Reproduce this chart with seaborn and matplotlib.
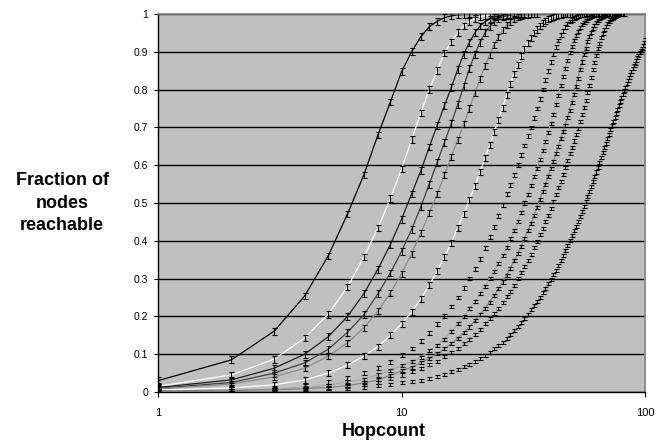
import pandas as pd
import matplotlib
matplotlib.use("Agg")
import matplotlib.pyplot as plt
import seaborn as sns

# ---------- Data: fraction of nodes reachable within h hops (h = 1, 2, 3, ...) ----------
c1 = [0.030, 0.085, 0.161, 0.254, 0.360, 0.471, 0.574, 0.680, 0.767, 0.847,
      0.900, 0.940, 0.966, 0.981, 0.990, 0.995, 0.998, 0.999, 1.0, 1.0]
c2 = [0.015, 0.045, 0.087, 0.143, 0.206, 0.278, 0.357, 0.434, 0.512, 0.590,
      0.667, 0.738, 0.800, 0.850, 0.897, 0.926, 0.950, 0.968, 0.980, 0.988,
      0.993, 0.996, 0.998, 0.999, 1.0]
c3 = [0.012, 0.032, 0.063, 0.100, 0.146, 0.200, 0.260, 0.325, 0.390, 0.457,
      0.524, 0.585, 0.648, 0.705, 0.757, 0.805, 0.853, 0.893, 0.925, 0.950,
      0.968, 0.979, 0.987, 0.992, 0.995, 0.997, 0.998, 0.999, 1.0, 1.0]
c4 = [0.010, 0.025, 0.050, 0.077, 0.113, 0.158, 0.204, 0.260, 0.315, 0.372,
      0.430, 0.490, 0.550, 0.607, 0.660, 0.710, 0.760, 0.808, 0.855, 0.893,
      0.925, 0.950, 0.967, 0.979, 0.987, 0.992, 0.995, 0.997, 0.998, 0.999,
      1.0, 1.0]
c5 = [0.008, 0.021, 0.040, 0.063, 0.095, 0.130, 0.170, 0.214, 0.262, 0.313,
      0.366, 0.420, 0.473, 0.524, 0.574, 0.622, 0.666, 0.708, 0.750, 0.790,
      0.828, 0.862, 0.892, 0.918, 0.940, 0.957, 0.970, 0.980, 0.987, 0.992,
      0.995, 0.997, 0.998, 0.999, 1.0, 1.0]
c6 = [0.005, 0.011, 0.019, 0.032, 0.050, 0.071, 0.095, 0.120, 0.150, 0.180,
      0.212, 0.246, 0.283, 0.320, 0.357, 0.394, 0.434, 0.471, 0.508, 0.545,
      0.582, 0.618, 0.653, 0.687, 0.720, 0.752, 0.785, 0.815, 0.842, 0.866,
      0.888, 0.907, 0.923, 0.937, 0.949, 0.959, 0.968, 0.975, 0.981, 0.986,
      0.990, 0.993, 0.995, 0.997, 0.998, 0.999, 1.0, 1.0, 1.0, 1.0]
c7 = [0.004, 0.007, 0.010, 0.016, 0.027, 0.038, 0.051, 0.064, 0.080, 0.098,
      0.115, 0.135, 0.157, 0.180, 0.202, 0.226, 0.250, 0.275, 0.300, 0.325,
      0.352, 0.380, 0.410, 0.437, 0.466, 0.495, 0.524, 0.548, 0.574, 0.600,
      0.627, 0.652, 0.677, 0.700, 0.725, 0.750, 0.775, 0.800, 0.825, 0.850,
      0.873, 0.895, 0.913, 0.930, 0.944, 0.956, 0.966, 0.974, 0.980, 0.985,
      0.989, 0.992, 0.994, 0.996, 0.997, 0.998, 0.999, 1.0, 1.0, 1.0]
c8 = [0.003, 0.005, 0.008, 0.012, 0.018, 0.027, 0.034, 0.045, 0.058, 0.069,
      0.080, 0.092, 0.109, 0.124, 0.140, 0.160, 0.180, 0.200, 0.220, 0.240,
      0.260, 0.280, 0.300, 0.320, 0.341, 0.362, 0.383, 0.405, 0.428, 0.451,
      0.475, 0.500, 0.523, 0.546, 0.569, 0.592, 0.615, 0.638, 0.662, 0.686,
      0.710, 0.735, 0.760, 0.785, 0.810, 0.834, 0.857, 0.878, 0.897, 0.914,
      0.929, 0.942, 0.953, 0.963, 0.971, 0.978, 0.983, 0.987, 0.990, 0.993,
      0.995, 0.997, 0.998, 0.999, 1.0, 1.0, 1.0]
c9 = [0.003, 0.004, 0.006, 0.009, 0.012, 0.017, 0.024, 0.032, 0.044, 0.056,
      0.066, 0.077, 0.089, 0.101, 0.114, 0.128, 0.142, 0.157, 0.172, 0.188,
      0.204, 0.221, 0.238, 0.255, 0.273, 0.291, 0.309, 0.328, 0.347, 0.366,
      0.386, 0.406, 0.426, 0.446, 0.467, 0.488, 0.509, 0.530, 0.550, 0.570,
      0.590, 0.610, 0.630, 0.650, 0.670, 0.688, 0.706, 0.725, 0.745, 0.765,
      0.787, 0.808, 0.830, 0.852, 0.873, 0.893, 0.910, 0.926, 0.940, 0.952,
      0.962, 0.970, 0.977, 0.983, 0.987, 0.990, 0.993, 0.995, 0.997, 0.998,
      0.999, 1.0, 1.0, 1.0, 1.0]
c10 = [0.002, 0.003, 0.005, 0.007, 0.010, 0.014, 0.019, 0.026, 0.036, 0.045,
       0.054, 0.063, 0.072, 0.082, 0.093, 0.104, 0.116, 0.128, 0.140, 0.153,
       0.166, 0.180, 0.194, 0.208, 0.222, 0.237, 0.252, 0.267, 0.283, 0.299,
       0.315, 0.331, 0.348, 0.365, 0.382, 0.399, 0.416, 0.433, 0.450, 0.468,
       0.486, 0.504, 0.522, 0.540, 0.558, 0.576, 0.594, 0.612, 0.630, 0.647,
       0.664, 0.681, 0.698, 0.716, 0.734, 0.753, 0.772, 0.792, 0.812, 0.832,
       0.852, 0.872, 0.891, 0.908, 0.923, 0.937, 0.949, 0.959, 0.967, 0.974,
       0.980, 0.985, 0.989, 0.992, 0.994, 0.996, 0.997, 0.998, 0.999, 1.0,
       1.0, 1.0]
c11 = [0.002, 0.003, 0.004, 0.006, 0.008, 0.010, 0.013, 0.016, 0.020, 0.024,
       0.027, 0.031, 0.036, 0.041, 0.047, 0.053, 0.060, 0.067, 0.074, 0.081,
       0.089, 0.097, 0.105, 0.114, 0.123, 0.132, 0.142, 0.152, 0.163, 0.173,
       0.184, 0.195, 0.206, 0.217, 0.228, 0.239, 0.250, 0.262, 0.274, 0.286,
       0.298, 0.310, 0.322, 0.335, 0.348, 0.361, 0.374, 0.387, 0.400, 0.413,
       0.426, 0.439, 0.452, 0.465, 0.478, 0.491, 0.504, 0.517, 0.530, 0.543,
       0.556, 0.569, 0.582, 0.595, 0.608, 0.621, 0.634, 0.646, 0.658, 0.670,
       0.682, 0.694, 0.705, 0.716, 0.727, 0.738, 0.748, 0.758, 0.768, 0.778,
       0.788, 0.797, 0.806, 0.815, 0.824, 0.832, 0.840, 0.848, 0.856, 0.863,
       0.870, 0.877, 0.884, 0.891, 0.897, 0.903, 0.910, 0.917, 0.924, 0.932]

names = ["c1", "c2", "c3", "c4", "c5", "c6", "c7", "c8", "c9", "c10", "c11"]
curves = [c1, c2, c3, c4, c5, c6, c7, c8, c9, c10, c11]
# half-height of the error bars per series
errs = [0.009, 0.009, 0.009, 0.009, 0.008, 0.008, 0.005, 0.004, 0.004, 0.004, 0.004]

# series drawn with a connecting line (others are error bars only)
line_colors = {"c1": "black", "c2": "white", "c3": "#202020", "c4": "#404040",
               "c5": "#8c8c8c", "c6": "white", "c8": "#a8a8a8", "c9": "#858585"}

rows = [(n, h + 1, v) for n, vals in zip(names, curves) for h, v in enumerate(vals)]
df = pd.DataFrame(rows, columns=["series", "hop", "frac"])

# ---------- Plot ----------
sns.set_style("ticks", {"axes.facecolor": "#c0c0c0"})
plt.rcParams["font.family"] = ["Liberation Sans", "DejaVu Sans"]
plt.rcParams.update({"text.color": "black", "axes.labelcolor": "black",
                     "xtick.color": "black", "ytick.color": "black"})

fig, ax = plt.subplots(figsize=(6.56, 4.43), dpi=100)
fig.subplots_adjust(left=0.2409, right=0.9832, bottom=0.1151, top=0.9684)

ax.set_yticks([i / 10 for i in range(11)])
ax.yaxis.grid(True, color="black", lw=1.0, zorder=0)
ax.set_axisbelow(True)

lined = df[df["series"].isin(line_colors)]
sns.lineplot(data=lined, x="hop", y="frac", hue="series", palette=line_colors,
             estimator=None, legend=False, lw=0.9, ax=ax, zorder=2)

for n, e in zip(names, errs):
    sub = df[df["series"] == n]
    ax.errorbar(sub["hop"], sub["frac"], yerr=e, fmt="none", ecolor="black",
                elinewidth=0.8, capsize=1.8, capthick=0.8, zorder=3)

ax.set_xscale("log")
ax.set_xlim(1, 100)
ax.set_ylim(0, 1)
ax.set_xticks([1, 10, 100])
ax.set_xticklabels(["1", "10", "100"])
ax.xaxis.set_minor_locator(matplotlib.ticker.NullLocator())
ax.set_yticklabels(["0"] + [f"{i / 10:.1f}" for i in range(1, 10)] + ["1"])
ax.tick_params(axis="y", labelsize=7.5, length=3, width=0.8, pad=4,
               color="black", labelcolor="black")
ax.tick_params(axis="x", labelsize=8, length=3.5, width=0.8, pad=8,
               color="black", labelcolor="black")

for side in ["left", "bottom"]:
    ax.spines[side].set_color("black")
    ax.spines[side].set_linewidth(1.0)
for side in ["top", "right"]:
    ax.spines[side].set_visible(True)
    ax.spines[side].set_color("#808080")
    ax.spines[side].set_linewidth(1.2)

ax.set_xlabel("")
ax.set_ylabel("")
fig.text(62 / 656, 1 - 203 / 443, "Fraction of\nnodes\nreachable", ha="center", va="center",
         multialignment="center", fontsize=13, fontweight="bold", linespacing=1.4,
         color="black")
fig.text(384 / 656, 1 - 436 / 443, "Hopcount", ha="center", va="baseline",
         fontsize=13, fontweight="bold", color="black")

plt.savefig("out.png", dpi=100)
plt.close()
